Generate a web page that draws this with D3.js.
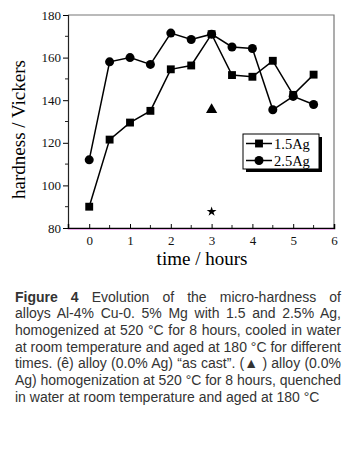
<!DOCTYPE html>
<html>
<head>
<meta charset="utf-8">
<script src="https://cdn.jsdelivr.net/npm/d3@7"></script>
<style>
  body { margin: 0; background: #fff; }
  #wrap { position: relative; width: 348px; height: 450px; }
  svg { position: absolute; left: 0; top: 0; }
  .axis text { font-family: "Liberation Serif", "DejaVu Serif", serif; font-size: 13px; fill: #111; }
  .cap { position: absolute; left: 15px; font-family: "Liberation Sans", Arial, sans-serif;
         font-size: 14px; line-height: 16.67px; color: #333; white-space: nowrap; }
</style>
</head>
<body>
<div id="wrap"></div>
<script>
// data
var times = [0, 0.5, 1, 1.5, 2, 2.5, 3, 3.5, 4, 4.5, 5, 5.5];
var ag15 = [90, 121.5, 129.5, 135, 154.5, 156.3, 171, 151.8, 151, 158.5, 142.5, 152];
var ag25 = [112, 158, 160, 156.8, 171.5, 168.5, 171, 165, 164.3, 135.5, 141.8, 138];
var triPoint = [3, 135.5];
var starPoint = [3, 87.7];
var xTicks = [0, 1, 2, 3, 4, 5, 6];
var yTicks = [80, 100, 120, 140, 160, 180];
var seriesNames = ["1.5Ag", "2.5Ag"];
var captionLines = [
  "<b>Figure 4</b> Evolution of the micro-hardness of",
  "alloys Al-4% Cu-0. 5% Mg with 1.5 and 2.5% Ag,",
  "homogenized at 520 °C for 8 hours, cooled in water",
  "at room temperature and aged at 180 °C for different",
  "times. (ê) alloy (0.0% Ag) “as cast”. (▲ ) alloy (0.0%",
  "Ag) homogenization at 520 °C for 8 hours, quenched",
  "in water at room temperature and aged at 180 °C"
];

var width = 348, height = 450;
var pLeft = 68, pRight = 334, pTop = 15, pBottom = 228;
var capWidth = 326;

var wrap = d3.select("#wrap");
var svg = wrap.append("svg").attr("width", width).attr("height", height);

var x = d3.scaleLinear().domain([-0.52, 6]).range([pLeft, pRight]);
var y = d3.scaleLinear().domain([80, 180]).range([pBottom, pTop]);

// frame top / right
svg.append("path")
  .attr("d", `M${pLeft},${pTop}H${pRight}V${pBottom}`)
  .attr("fill", "none").attr("stroke", "#777").attr("stroke-width", 1.2);

// minor ticks
svg.append("g").selectAll("line")
  .data(d3.range(90, 180, 20)).enter().append("line")
  .attr("x1", pLeft - 3).attr("x2", pLeft)
  .attr("y1", function(d) { return y(d); }).attr("y2", function(d) { return y(d); })
  .attr("stroke", "#222");
svg.append("g").selectAll("line")
  .data(d3.range(0.5, 6, 1)).enter().append("line")
  .attr("x1", function(d) { return x(d); }).attr("x2", function(d) { return x(d); })
  .attr("y1", pBottom - 3).attr("y2", pBottom)
  .attr("stroke", "#222");

// axes
var yAxis = d3.axisLeft(y).tickValues(yTicks).tickSize(5).tickPadding(2);
svg.append("g").attr("class", "axis")
  .attr("transform", `translate(${pLeft},0)`)
  .call(yAxis)
  .call(function(g) { g.select(".domain").attr("stroke", "#222").attr("stroke-width", 1.2); });

var xAxis = d3.axisBottom(x).tickValues(xTicks).tickFormat(d3.format("d"))
  .tickSize(-4).tickPadding(8);
svg.append("g").attr("class", "axis")
  .attr("transform", `translate(0,${pBottom})`)
  .call(xAxis)
  .call(function(g) {
    g.select(".domain").attr("stroke", "#000").attr("stroke-width", 1.5);
  });
svg.append("line")
  .attr("x1", pLeft).attr("x2", pRight).attr("y1", pBottom + 1.5).attr("y2", pBottom + 1.5)
  .attr("stroke", "#e9a6e9").attr("stroke-width", 1);

// axis titles
svg.append("text")
  .attr("transform", `translate(25,${(pTop + pBottom) / 2 + 8})rotate(-90)`)
  .attr("text-anchor", "middle")
  .attr("font-family", "Liberation Serif, serif").attr("font-size", 19)
  .text("hardness / Vickers");
svg.append("text")
  .attr("x", 202).attr("y", 265)
  .attr("text-anchor", "middle")
  .attr("font-family", "Liberation Serif, serif").attr("font-size", 19)
  .text("time / hours");

// lines
var line = d3.line()
  .x(function(d, i) { return x(times[i]); })
  .y(function(d) { return y(d); });

svg.append("path").datum(ag15).attr("d", line)
  .attr("fill", "none").attr("stroke", "#000").attr("stroke-width", 1.5);
svg.append("path").datum(ag25).attr("d", line)
  .attr("fill", "none").attr("stroke", "#000").attr("stroke-width", 1.5);

var square = d3.symbol().type(d3.symbolSquare).size(62);
var circle = d3.symbol().type(d3.symbolCircle).size(64);

svg.append("g").selectAll("path").data(ag15).enter().append("path")
  .attr("d", square)
  .attr("transform", function(d, i) { return `translate(${x(times[i])},${y(d)})`; });
svg.append("g").selectAll("path").data(ag25).enter().append("path")
  .attr("d", circle)
  .attr("transform", function(d, i) { return `translate(${x(times[i])},${y(d)})`; });

svg.append("path")
  .attr("d", d3.symbol().type(d3.symbolTriangle).size(55))
  .attr("transform", `translate(${x(triPoint[0])},${y(triPoint[1])})`);
svg.append("path")
  .attr("d", d3.symbol().type(d3.symbolStar).size(30))
  .attr("transform", `translate(${x(starPoint[0])},${y(starPoint[1])})`);

// legend
var lg = svg.append("g").attr("transform", "translate(243,134)");
lg.append("rect").attr("x", 3).attr("y", 3).attr("width", 76).attr("height", 35).attr("fill", "#000");
lg.append("rect").attr("width", 76).attr("height", 35)
  .attr("fill", "#fff").attr("stroke", "#000").attr("stroke-width", 1);
seriesNames.forEach(function(name, i) {
  var ry = 9.5 + i * 17;
  lg.append("line").attr("x1", 3).attr("x2", 29).attr("y1", ry).attr("y2", ry)
    .attr("stroke", "#000").attr("stroke-width", 1.5);
  lg.append("path").attr("d", i === 0 ? square : circle)
    .attr("transform", `translate(16,${ry})`);
  lg.append("text").attr("x", 31).attr("y", ry + 5)
    .attr("font-family", "Liberation Serif, serif").attr("font-size", 14.5)
    .text(name);
});

// caption: one div per line, justified except the last
wrap.selectAll("div.cap").data(captionLines).enter().append("div")
  .attr("class", "cap")
  .style("top", function(d, i) { return (288.7 + i * 16.67) + "px"; })
  .html(function(d) { return d; })
  .each(function(d, i) {
    var el = d3.select(this);
    var natural = this.getBoundingClientRect().width;
    var txt = this.textContent;
    var gaps = (txt.match(/ /g) || []).length;
    if (natural > capWidth) {
      // squeeze letters a little when the line is too long
      el.style("letter-spacing", ((capWidth - natural) / txt.length) + "px");
    } else if (i < captionLines.length - 1) {
      el.style("word-spacing", ((capWidth - natural) / gaps) + "px");
    }
  });
</script>
</body>
</html>
